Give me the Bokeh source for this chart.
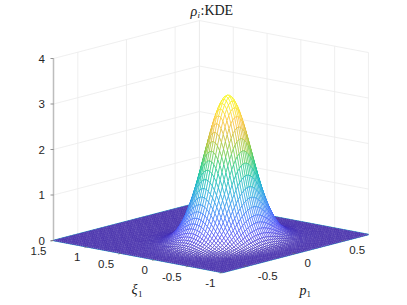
import numpy as np
from bokeh.plotting import figure
from bokeh.models import Range1d, ColumnDataSource
from bokeh.core.properties import value
from bokeh.embed import file_html
from bokeh.resources import INLINE

# ---- data ----
xi_limits = [-1.0, 1.5]
p_limits = [-0.75, 0.75]
z_limits = [0, 4]
xi_ticks = [1.5, 1, 0.5, 0, -0.5, -1]
xi_tick_labels = ["1.5", "1", "0.5", "0", "-0.5", "-1"]
p_ticks = [-0.5, 0, 0.5]
p_tick_labels = ["-0.5", "0", "0.5"]
z_ticks = [0, 1, 2, 3, 4]
z_tick_labels = ["0", "1", "2", "3", "4"]
peak_height = 3.2

# relative height along xi (-1 ... 1.5, 81 mesh lines)
xi_profile = [
    .0001, .0001, .0002, .0004, .0007, .0012, .0019, .0031, .0049, .0076, .0115, .017,
    .025, .036, .050, .069, .094, .125, .164, .210, .265, .327, .397, .474,
    .554, .636, .717, .794, .863, .920, .964, .991, 1.0,
    .991, .964, .920, .863, .794, .717, .636, .554, .474, .397, .327, .265, .210,
    .164, .125, .094, .069, .050, .036, .025, .017, .0115, .0076, .0049, .0031, .0019,
    .0012, .0007, .0004, .0002, .0001, .0001,
    0, 0, 0, 0, 0, 0, 0, 0, 0, 0, 0, 0, 0, 0, 0, 0,
]
# relative height along p (-0.75 ... 0.75, 81 mesh lines)
p_profile = [
    .0002, .0003, .0004, .0006, .0009, .0013, .0019, .0027, .0039, .0054, .0076, .0104,
    .014, .019, .026, .034, .044, .057, .072, .091, .114, .141, .172, .208, .249, .295,
    .345, .400, .458, .519, .581, .644, .707, .767, .823, .873, .917, .952, .978, .995,
    1.0,
    .995, .978, .952, .917, .873, .823, .767, .707, .644, .581, .519, .458, .400, .345,
    .295, .249, .208, .172, .141, .114, .091, .072, .057, .044, .034, .026, .019, .014,
    .0104, .0076, .0054, .0039, .0027, .0019, .0013, .0009, .0006, .0004, .0003, .0002,
]
# colour map
parula_stops = ["#3e26a8", "#4743f0", "#3f6cfd", "#2d8fef", "#1cabd8", "#0cbfa9",
                "#2dcb74", "#86ca3b", "#d2bb2e", "#fcc03a", "#f9e51f", "#f9fb0e"]

GRID = "#ebebeb"
AXIS = "#bdbdbd"
TXT = "#262626"

def proj(xi, p, z=0.0):
    xi, p, z = np.asarray(xi, float), np.asarray(p, float), np.asarray(z, float)
    return (222 - 67.6 * (xi + 1) + 97.3 * (p + .75),
            272 - 12.8 * (xi + 1) - 25.3 * (p + .75) - 45.5 * z)

p3 = figure(width=407, height=305, output_backend="svg", toolbar_location=None,
            x_range=Range1d(0, 407), y_range=Range1d(305, 0), min_border=0,
            outline_line_color=None)
p3.axis.visible = False
p3.grid.visible = False

def seg(a, b, color, width=0.8):
    p3.line([a[0], b[0]], [a[1], b[1]], line_color=color, line_width=width)

xi0, xi1 = xi_limits
p0, p1 = p_limits
ztop = z_limits[1]
# walls
for z in z_ticks[1:]:
    seg(proj(xi1, p0, z), proj(xi1, p1, z), GRID)
    seg(proj(xi1, p1, z), proj(xi0, p1, z), GRID)
for t in p_ticks:
    seg(proj(xi1, t), proj(xi1, t, ztop), GRID)
for t in xi_ticks:
    seg(proj(t, p1), proj(t, p1, ztop), GRID)
seg(proj(xi1, p1), proj(xi1, p1, ztop), GRID)
seg(proj(xi1, p0), proj(xi1, p0, ztop), AXIS, 1.5)

# z ticks and labels
zx, zy = proj([xi1] * len(z_ticks), [p0] * len(z_ticks), z_ticks)
for x, y in zip(zx, zy):
    seg((x - 3, y), (x, y), "#666666", 0.7)
p3.text(zx - 8.5, zy, text=z_tick_labels, text_font=value("Liberation Sans"), text_font_size="11.5px",
        text_color=TXT, text_align="right", text_baseline="middle")

# ground outline under the mesh
ox, oy = proj([xi1, xi0, xi0, xi1, xi1], [p0, p0, p1, p1, p0])
p3.line(ox, oy, line_color="#3fc0d0", line_width=1.5)

# mesh
xi_g = np.linspace(xi0, xi1, len(xi_profile))
p_g = np.linspace(p0, p1, len(p_profile))
Z = peak_height * np.outer(xi_profile, p_profile)
pal = np.array([[int(c[i:i + 2], 16) for i in (1, 3, 5)] for c in parula_stops], float)
pos = np.linspace(0, 1, len(pal))
def colour(z):
    f = min(z / peak_height, 1)
    rgb = [np.interp(f, pos, pal[:, k]) for k in range(3)]
    return "#%02x%02x%02x" % tuple(int(round(v)) for v in rgb)

xs, ys, cols = [], [], []
for i in range(len(xi_g) - 2, -1, -1):
    for j in range(len(p_g) - 2, -1, -1):
        a = [xi_g[i], xi_g[i + 1], xi_g[i + 1], xi_g[i]]
        b = [p_g[j], p_g[j], p_g[j + 1], p_g[j + 1]]
        c = [Z[i, j], Z[i + 1, j], Z[i + 1, j + 1], Z[i, j + 1]]
        x, y = proj(a, b, c)
        xs.append(np.round(x, 2).tolist())
        ys.append(np.round(y, 2).tolist())
        cols.append(colour(np.mean(c)))
p3.patches("xs", "ys", source=ColumnDataSource(dict(xs=xs, ys=ys, c=cols)),
           fill_color="white", line_color="c", line_width=0.62)

# base ticks
for t in xi_ticks:
    seg(proj(t, p0), proj(t, p0 - 0.03), "#666666", 0.6)
for t in p_ticks:
    seg(proj(xi0, t), proj(xi0 + 0.045, t), "#666666", 0.6)

# base tick labels
xx, xy = proj(xi_ticks, [p0] * len(xi_ticks))
p3.text(xx - 7, xy + 10.5, text=xi_tick_labels, text_font=value("Liberation Sans"), text_font_size="11.5px",
        text_color=TXT, text_align="right", text_baseline="middle")
px_, py_ = proj([xi0] * len(p_ticks), p_ticks)
p3.text(px_ + np.array([11, 9, 5]), py_ + 9.5, text=p_tick_labels, text_font=value("Liberation Sans"),
        text_font_size="11.5px", text_color=TXT, text_align="left", text_baseline="middle")

# labels
def label(x, y, s, size, style="normal"):
    p3.text([x], [y], text=[s], text_font=value("Liberation Serif"), text_font_size=size,
            text_font_style=style, text_color="#1a1a1a", text_align="left", text_baseline="middle")

label(190, 11, "ρ", "14px", "italic")
label(197, 14, "i", "9px", "italic")
label(200, 10, ":KDE", "14px")
label(131, 289, "ξ", "14px", "italic")
label(137.5, 293, "1", "9px")
label(299, 290, "p", "14px", "italic")
label(306, 293, "1", "9px")

open("out.html", "w").write(file_html(p3, INLINE))
